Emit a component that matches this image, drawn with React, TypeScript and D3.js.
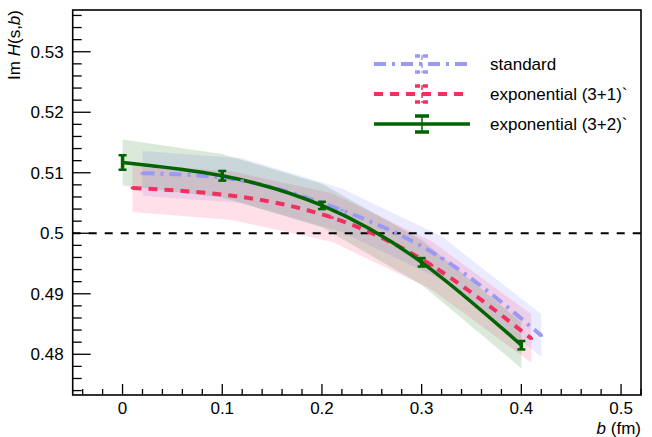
import React from "react";
import * as d3 from "d3";

// impact parameter b (fm) and Im H(s,b) for each fit
const bStandard = [0.02, 0.12, 0.22, 0.32, 0.42];
const standard = [0.5099, 0.5087, 0.5038, 0.4959, 0.4831];
const standardErr = [0.0002, 0.0002, 0.0002, 0.0002, 0.0002];
const standardBand = [0.0037, 0.0037, 0.0036, 0.0036, 0.0035];

const bExp31 = [0.01, 0.11, 0.21, 0.31, 0.41];
const exp31 = [0.5075, 0.5062, 0.5026, 0.4947, 0.4826];
const exp31Err = [0.0002, 0.0002, 0.0002, 0.0002, 0.0002];
const exp31Band = [0.004, 0.004, 0.004, 0.004, 0.004];

const bExp32 = [0.0, 0.1, 0.2, 0.3, 0.4];
const exp32 = [0.5117, 0.5095, 0.5046, 0.4952, 0.4815];
const exp32Err = [0.0012, 0.0008, 0.0006, 0.0007, 0.0007];
const exp32Band = [0.0038, 0.0036, 0.0036, 0.0037, 0.0038];

const xTicks = [0, 0.1, 0.2, 0.3, 0.4, 0.5];
const yTicks = [0.48, 0.49, 0.5, 0.51, 0.52, 0.53];

const series = [
  { name: "standard", b: bStandard, v: standard, err: standardErr, band: standardBand,
    color: "#9a9af5", bandFill: "rgba(110,110,255,0.14)", dash: "12,6,3,6", width: 4, caps: false },
  { name: "exponential (3+1)`", b: bExp31, v: exp31, err: exp31Err, band: exp31Band,
    color: "#f0305f", bandFill: "rgba(255,80,130,0.18)", dash: "9,7", width: 4, caps: false },
  { name: "exponential (3+2)`", b: bExp32, v: exp32, err: exp32Err, band: exp32Band,
    color: "#006400", bandFill: "rgba(0,100,0,0.14)", dash: null, width: 3.5, caps: true },
];

const App = () => {
  const width = 652;
  const height = 437;
  const frame = { left: 72.7, right: 641, top: 10, bottom: 395 };
  const font = "Liberation Sans, Arial, Helvetica, sans-serif";

  const x = d3.scaleLinear().domain([-0.05, 0.52]).range([frame.left, frame.right]);
  const y = d3.scaleLinear().domain([0.47327, 0.5369]).range([frame.bottom, frame.top]);

  const xMinor = d3.range(-0.04, 0.521, 0.02).filter((t) => Math.abs(Math.round(t * 10) - t * 10) > 1e-6);
  const yMinor = d3.range(0.474, 0.537, 0.002).filter((t) => Math.abs(Math.round(t * 100) - t * 100) > 1e-6);

  const line = d3.line<number>().curve(d3.curveNatural);
  const area = d3.area<number>();

  return (
    <svg width={width} height={height} style={{ position: "absolute", left: 0, top: 0, background: "#fff" }}>
      {/* bands */}
      {series.map((s) => {
        const a = area
          .x((i) => x(s.b[i]))
          .y0((i) => y(s.v[i] - s.band[i]))
          .y1((i) => y(s.v[i] + s.band[i]));
        return <path key={"band" + s.name} d={a(s.b.map((_, i) => i)) || ""} fill={s.bandFill} stroke="none" />;
      })}

      {/* reference line */}
      <line x1={frame.left} x2={frame.right} y1={y(0.5)} y2={y(0.5)} stroke="#000" strokeWidth={2.2} strokeDasharray="8,8" />

      {/* curves */}
      {series.map((s) => {
        const l = line.x((i) => x(s.b[i])).y((i) => y(s.v[i]));
        return (
          <path key={"line" + s.name} d={l(s.b.map((_, i) => i)) || ""} fill="none" stroke={s.color}
            strokeWidth={s.width} strokeDasharray={s.dash || undefined} />
        );
      })}

      {/* error bars */}
      {series.map((s) =>
        s.b.map((b, i) => (
          <g key={"err" + s.name + i} stroke={s.color}>
            <line x1={x(b)} x2={x(b)} y1={y(s.v[i] - s.err[i])} y2={y(s.v[i] + s.err[i])} strokeWidth={3.5} />
            {s.caps && (
              <>
                <line x1={x(b) - 4} x2={x(b) + 4} y1={y(s.v[i] - s.err[i])} y2={y(s.v[i] - s.err[i])} strokeWidth={2.5} />
                <line x1={x(b) - 4} x2={x(b) + 4} y1={y(s.v[i] + s.err[i])} y2={y(s.v[i] + s.err[i])} strokeWidth={2.5} />
              </>
            )}
          </g>
        ))
      )}

      {/* frame */}
      <rect x={frame.left} y={frame.top} width={frame.right - frame.left} height={frame.bottom - frame.top}
        fill="none" stroke="#000" strokeWidth={1.6} />

      {/* x ticks */}
      {xTicks.map((t) => (
        <g key={"xt" + t}>
          <line x1={x(t)} x2={x(t)} y1={frame.bottom} y2={frame.bottom - 11} stroke="#000" strokeWidth={1.3} />
          <text x={x(t)} y={frame.bottom + 19} textAnchor="middle" fontFamily={font} fontSize={17}>{t}</text>
        </g>
      ))}
      {xMinor.map((t) => (
        <line key={"xm" + t} x1={x(t)} x2={x(t)} y1={frame.bottom} y2={frame.bottom - 6} stroke="#000" strokeWidth={1.3} />
      ))}

      {/* y ticks */}
      {yTicks.map((t) => (
        <g key={"yt" + t}>
          <line x1={frame.left} x2={frame.left + 18} y1={y(t)} y2={y(t)} stroke="#000" strokeWidth={1.3} />
          <text x={frame.left - 9} y={y(t) + 6} textAnchor="end" fontFamily={font} fontSize={17}>{t}</text>
        </g>
      ))}
      {yMinor.map((t) => (
        <line key={"ym" + t} x1={frame.left} x2={frame.left + 9} y1={y(t)} y2={y(t)} stroke="#000" strokeWidth={1.3} />
      ))}

      {/* axis titles */}
      <text x={frame.right} y={434} textAnchor="end" fontFamily={font} fontSize={17}>
        <tspan fontStyle="italic">b</tspan> (fm)
      </text>
      <text transform={`translate(20,${frame.top}) rotate(-90)`} textAnchor="end" fontFamily={font} fontSize={17}>
        Im <tspan fontStyle="italic">H</tspan>(s,<tspan fontStyle="italic">b</tspan>)
      </text>

      {/* legend */}
      {series.map((s, i) => {
        const ly = 64 + i * 30;
        return (
          <g key={"leg" + s.name}>
            <line x1={374} x2={470} y1={ly} y2={ly} stroke={s.color} strokeWidth={s.width} strokeDasharray={s.dash || undefined} />
            <g stroke={s.color} strokeDasharray={s.dash ? "5,3" : undefined}>
              <line x1={422} x2={422} y1={ly - 9} y2={ly + 9} strokeWidth={1.5} />
              <line x1={415} x2={429} y1={ly - 8} y2={ly - 8} strokeWidth={3.5} />
              <line x1={415} x2={429} y1={ly + 8} y2={ly + 8} strokeWidth={3.5} />
            </g>
            <text x={490} y={ly + 6} fontFamily={font} fontSize={17}>{s.name}</text>
          </g>
        );
      })}
    </svg>
  );
};

export default App;
